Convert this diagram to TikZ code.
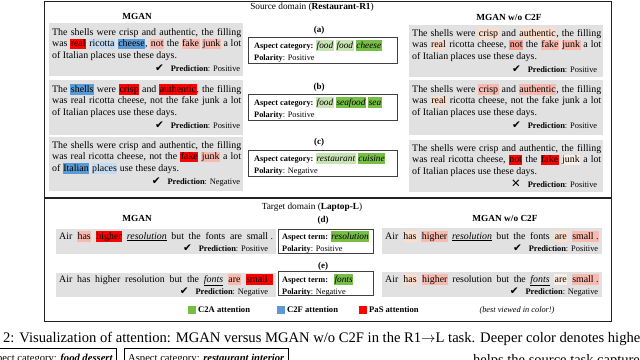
\documentclass[tikz,border=0pt]{standalone}
\usepackage{fontspec}
\setmainfont{Liberation Serif}
\newfontfamily\djv{DejaVu Sans}
\definecolor{pasR}{HTML}{FF0000}
\definecolor{pinkA}{HTML}{F5A097}
\definecolor{pinkB}{HTML}{F8B9AF}
\definecolor{peach}{HTML}{FCDCCB}
\definecolor{peachL}{HTML}{FDEEE4}
\definecolor{blueA}{HTML}{5B9BD5}
\definecolor{blueB}{HTML}{C7DCF0}
\definecolor{greenA}{HTML}{77BE45}
\definecolor{greenB}{HTML}{C8E3B4}
\definecolor{panelgray}{HTML}{E1E1E1}
\definecolor{framec}{HTML}{222222}

\newcommand\hl[2]{{\fboxsep=0.5pt\colorbox{#1}{\rule[-2.3pt]{0pt}{9.8pt}#2}}}
\newcommand\srcfont{\fontsize{9.9pt}{11.5pt}\selectfont}
\newcommand\predfont{\fontsize{8.4pt}{10pt}\selectfont}
\newcommand\boxfont{\fontsize{8.3pt}{10pt}\selectfont}
\newcommand\itfont{\fontsize{9.3pt}{10pt}\selectfont\itshape}
\newcommand\jl[2]{\hbox to #1{#2}}
\newcommand\chk{{\djv\fontsize{10.5pt}{10pt}\selectfont ✔}}
\newcommand\crs{{\djv\fontsize{11.5pt}{10pt}\selectfont ✕}}
% width, mark, label, end kern
\newcommand\pred[4]{\hbox to #1{\hfil #2\hspace{7pt}{\predfont\textbf{Prediction}: #3}\kern#4}}
\newcommand\srcpara[4]{\vtop{\srcfont\baselineskip=11.5pt\lineskiplimit=-20pt
  \jl{189pt}{#1}\jl{189pt}{#2}\hbox{#3}\vskip1.5pt #4}}
\newcommand\tgtpara[2]{\vtop{\srcfont\baselineskip=12pt\lineskiplimit=-20pt
  \jl{214pt}{#1}#2}}

\begin{document}
\begin{tikzpicture}[x=1pt,y=-1pt,
  panel/.style={fill=panelgray,draw=none,inner sep=0pt,anchor=north west},
  txt/.style={inner sep=0pt,anchor=base west},
  catbox/.style={draw=black!75,line width=0.8pt,fill=white,inner sep=0pt,anchor=north west},
  boxtxt/.style={inner sep=0pt,anchor=base west,font=\boxfont},
  sublab/.style={inner sep=0pt,font=\fontsize{9pt}{10pt}\selectfont\bfseries},
  head/.style={inner sep=0pt,font=\fontsize{9.3pt}{10pt}\selectfont\bfseries},
  title/.style={inner sep=0pt,font=\fontsize{9.3pt}{10pt}\selectfont},
  sq/.style={inner sep=0pt,minimum width=8pt,minimum height=8pt,draw=none},
  lg/.style={inner sep=0pt,anchor=west,font=\fontsize{8.6pt}{10pt}\selectfont\bfseries},
]
\useasboundingbox (0,0) rectangle (640,359);
\clip (0,0) rectangle (640,359);

% frame
\node[draw=framec,line width=1.4pt,inner sep=0pt,minimum width=567pt,minimum height=320pt,anchor=north west] (frame) at (43.5,1) {};
\coordinate (dL) at (43.5,198);
\coordinate (dR) at (610.5,198);
\draw[framec,line width=1.6pt] (dL) -- (dR);

% titles
\node[title] (srcT) at (312,7) {Source domain (\textbf{Restaurant-R1})};
\node[head] (mgL) at (137,16) {MGAN};
\node[head] (mgR) at (509,17) {MGAN w/o C2F};

% ---------- source left panels ----------
\node[panel,minimum width=194pt,minimum height=53pt] (pL1) at (49,23) {};
\node[panel,minimum width=194pt,minimum height=55pt] (pL2) at (49,80) {};
\node[panel,minimum width=194pt,minimum height=54pt] (pL3) at (49,137) {};

\node[txt] (tL1) at (52,35) {\srcpara
 {The shells were crisp and authentic, the filling}
 {was \hl{pasR}{real} \hl{blueB}{ricotta} \hl{blueA}{cheese}, \hl{pinkB}{not} the \hl{pinkB}{fake} \hl{pinkB}{junk} a lot}
 {of Italian places use these days.}
 {\pred{189pt}{\chk}{Positive}{1pt}}};
\node[txt] (tL2) at (52,92) {\srcpara
 {The \hl{blueA}{shells} were \hl{pasR}{crisp} and \hl{pasR}{authentic}, the filling}
 {was real ricotta cheese, not the fake junk a lot}
 {of Italian places use these days.}
 {\pred{189pt}{\chk}{Positive}{1pt}}};
\node[txt] (tL3) at (52,148) {\srcpara
 {The shells were crisp and authentic, the filling}
 {was real ricotta cheese, not the \hl{pasR}{fake} \hl{pinkB}{junk} a lot}
 {of \hl{blueA}{Italian} \hl{blueB}{places} use these days.}
 {\pred{189pt}{\chk}{Negative}{1pt}}};

% ---------- source right panels ----------
\node[panel,minimum width=194pt,minimum height=52pt] (pR1) at (409,25) {};
\node[panel,minimum width=194pt,minimum height=55pt] (pR2) at (409,80) {};
\node[panel,minimum width=194pt,minimum height=52pt] (pR3) at (409,140) {};

\node[txt] (tR1) at (412,36) {\srcpara
 {The shells were \hl{peach}{crisp} and \hl{peach}{authentic}, the filling}
 {was \hl{peach}{real} ricotta cheese, \hl{pinkA}{not} the \hl{pinkB}{fake} \hl{pinkB}{junk} a lot}
 {of Italian places use these days.}
 {\pred{189pt}{\chk}{Positive}{4pt}}};
\node[txt] (tR2) at (412,92) {\srcpara
 {The shells were \hl{pinkB}{crisp} and \hl{pinkB}{authentic}, the filling}
 {was \hl{peach}{real} ricotta cheese, not the fake junk a lot}
 {of Italian places use these days.}
 {\pred{189pt}{\chk}{Positive}{4pt}}};
\node[txt] (tR3) at (412,151) {\srcpara
 {The shells were crisp and authentic, the filling}
 {was real ricotta cheese, \hl{pasR}{not} the \hl{pasR}{fake} \hl{peachL}{junk} a lot}
 {of Italian places use these days.}
 {\pred{189pt}{\crs}{Positive}{4pt}}};

% ---------- source middle boxes ----------
\node[sublab] (la) at (319,30) {(a)};
\node[catbox,minimum width=149pt,minimum height=26pt] (ba) at (248,37) {};
\node[boxtxt] (ba1) at (254,48) {\textbf{Aspect category:} {\itfont\hl{greenB}{food} \hl{greenB}{food} \hl{greenA}{cheese}}};
\node[boxtxt] (ba2) at (254,60) {\textbf{Polarity}: Positive};

\node[sublab] (lb) at (319,87) {(b)};
\node[catbox,minimum width=149pt,minimum height=26pt] (bb) at (248,94) {};
\node[boxtxt] (bb1) at (254,105) {\textbf{Aspect category:} {\itfont\hl{greenB}{food} \hl{greenA}{seafood} \hl{greenA}{sea}}};
\node[boxtxt] (bb2) at (254,117) {\textbf{Polarity}: Positive};

\node[sublab] (lc) at (319,142) {(c)};
\node[catbox,minimum width=149pt,minimum height=26pt] (bc) at (248,150) {};
\node[boxtxt] (bc1) at (254,161) {\textbf{Aspect category:} {\itfont\hl{greenB}{restaurant} \hl{greenA}{cuisine}}};
\node[boxtxt] (bc2) at (254,173) {\textbf{Polarity}: Negative};

% ---------- target ----------
\node[title] (tgtT) at (312,207) {Target domain (\textbf{Laptop-L})};
\node[head] (mgL2) at (137,218) {MGAN};
\node[head] (mgR2) at (505,218) {MGAN w/o C2F};

\node[panel,minimum width=220pt,minimum height=25pt] (qL1) at (56,229) {};
\node[panel,minimum width=220pt,minimum height=24pt] (qL2) at (56,273) {};
\node[panel,minimum width=220pt,minimum height=26pt] (qR1) at (382,228) {};
\node[panel,minimum width=220pt,minimum height=25pt] (qR2) at (382,272) {};

\node[txt] (uL1) at (59,239) {\tgtpara
 {Air \hl{pinkB}{has} \hl{pasR}{higher} \underline{\textit{resolution}} but the fonts are small\kern2.5pt.}
 {\pred{214pt}{\chk}{Positive}{5pt}}};
\node[txt] (uL2) at (59,282) {\tgtpara
 {Air has higher resolution but the \underline{\textit{fonts}} \hl{pinkB}{are} \hl{pasR}{small\kern2.5pt.}}
 {\pred{214pt}{\chk}{Negative}{5pt}}};
\node[txt] (uR1) at (385,239) {\tgtpara
 {Air \hl{peach}{has} \hl{pinkB}{higher} \underline{\textit{resolution}} but the fonts \hl{peach}{are} \hl{pinkB}{small\kern2.5pt.}}
 {\pred{214pt}{\chk}{Positive}{1pt}}};
\node[txt] (uR2) at (385,282) {\tgtpara
 {Air \hl{peach}{has} \hl{pinkB}{higher} resolution but the \underline{\textit{fonts}} \hl{peachL}{are} \hl{pinkB}{small\kern2.5pt.}}
 {\pred{214pt}{\chk}{Negative}{1pt}}};

\node[sublab] (ld) at (323,220) {(d)};
\node[catbox,minimum width=95pt,minimum height=24pt] (bd) at (278,229) {};
\node[boxtxt] (bd1) at (282,239) {\textbf{Aspect term:} {\itfont\hl{greenA}{resolution}}};
\node[boxtxt] (bd2) at (282,251) {\textbf{Polarity}: Positive};

\node[sublab] (le) at (323,266) {(e)};
\node[catbox,minimum width=95pt,minimum height=24pt] (be) at (278,271) {};
\node[boxtxt] (be1) at (282,282) {\textbf{Aspect term:}\hspace{6pt}{\itfont\hl{greenA}{fonts}}};
\node[boxtxt] (be2) at (282,294) {\textbf{Polarity}: Negative};

% legend
\node[sq,fill=greenA] (sqG) at (192,310) {};
\node[lg] (lgG) at (198,310) {C2A attention};
\node[sq,fill=blueA] (sqB) at (281,310) {};
\node[lg] (lgB) at (287,310) {C2F attention};
\node[sq,fill=pasR] (sqR) at (363,310) {};
\node[lg] (lgR) at (369,310) {PaS attention};
\node[inner sep=0pt,font=\fontsize{8.3pt}{10pt}\selectfont\itshape] (bv) at (517,310) {(best viewed in color!)};

% caption (cropped)
\node[inner sep=0pt,anchor=base west,font=\fontsize{14.6pt}{16pt}\selectfont] (cap) at (3,342)
 {2: Visualization of attention: MGAN versus MGAN w/o C2F in the R1$\rightarrow$L task. Deeper color denotes higher attention};

% bottom cropped row
\node[draw=black,line width=0.8pt,inner sep=0pt,minimum width=140pt,minimum height=20pt,anchor=north east] (bx1) at (117,348) {};
\node[inner sep=0pt,anchor=base east,font=\fontsize{10.6pt}{12pt}\selectfont] (bx1t) at (113,361) {Aspect category: \textbf{\textit{food dessert}}};
\node[draw=black,line width=0.8pt,inner sep=0pt,minimum width=164pt,minimum height=20pt,anchor=north west] (bx2) at (124,348) {};
\node[inner sep=0pt,anchor=base west,font=\fontsize{10.6pt}{12pt}\selectfont] (bx2t) at (128,361) {Aspect category: \textbf{\textit{restaurant interior}}};
\node[inner sep=0pt,anchor=base west,font=\fontsize{14.5pt}{16pt}\selectfont] (helps) at (473,364) {helps the source task capture more fine-grained};
\end{tikzpicture}
\end{document}
